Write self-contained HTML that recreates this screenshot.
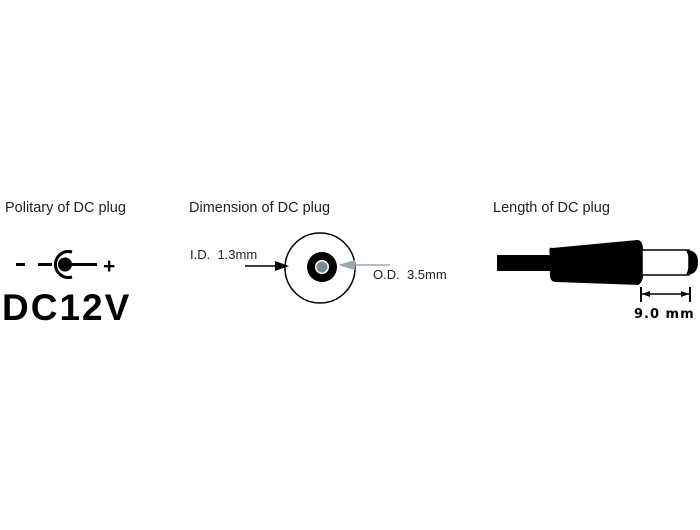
<!DOCTYPE html>
<html><head><style>
body{margin:0;background:#fff;}
svg{display:block}
</style></head><body>
<svg width="700" height="530" viewBox="0 0 700 530" xmlns="http://www.w3.org/2000/svg" font-family="Liberation Sans, sans-serif">
<rect width="700" height="530" fill="#fff"/>
<g font-size="14.5" fill="#222">
<text x="5" y="212">Politary of DC plug</text>
<text x="189" y="212">Dimension of DC plug</text>
<text x="493" y="212">Length of DC plug</text>
</g>
<!-- polarity -->
<rect x="16" y="263" width="9" height="3" fill="#000"/>
<rect x="38" y="263" width="14" height="3" fill="#000"/>
<path d="M72 252 A13 13 0 1 0 72 277" fill="none" stroke="#000" stroke-width="3"/>
<circle cx="65" cy="264.5" r="7" fill="#000"/>
<rect x="70" y="263" width="27" height="3" fill="#000"/>
<text x="103" y="273" font-size="21" font-weight="bold">+</text>
<text x="2" y="320" font-size="37" font-weight="bold" letter-spacing="2">DC12V</text>
<!-- dimension -->
<circle cx="320" cy="268" r="35" fill="none" stroke="#000" stroke-width="1.5"/>
<circle cx="322" cy="267" r="15" fill="#000"/>
<circle cx="322" cy="267" r="7" fill="#fff"/>
<circle cx="322" cy="267" r="5.5" fill="#7a8c94"/>
<text x="190" y="259" font-size="13" fill="#222">I.D.&#160;&#160;1.3mm</text>
<line x1="245" y1="266" x2="280" y2="266" stroke="#000" stroke-width="1.5"/>
<polygon points="289,266 275,261 275,271" fill="#000"/>
<text x="373" y="279" font-size="13" fill="#222">O.D.&#160;&#160;3.5mm</text>
<line x1="350" y1="265" x2="390" y2="265" stroke="#9aa8ae" stroke-width="1.5"/>
<polygon points="338,265 355,260 355,270" fill="#9aa8ae"/>
<!-- length -->
<rect x="497" y="255" width="55" height="16" fill="#000"/>
<path d="M552 248 Q548 246 550 256 L550 272 Q549 282 556 282 L638 285 Q644 282 643 270 L643 254 Q644 240 637 240 Z" fill="#000"/>
<rect x="642" y="250" width="47" height="25" fill="#fff" stroke="#000" stroke-width="1.5"/>
<path d="M686 250 Q698 250 698 262 Q698 275 686 275 Q692 262 686 250 Z" fill="#000"/>
<line x1="641" y1="287" x2="641" y2="302" stroke="#000" stroke-width="2"/>
<line x1="690" y1="287" x2="690" y2="302" stroke="#000" stroke-width="2"/>
<line x1="641" y1="294" x2="690" y2="294" stroke="#000" stroke-width="1.5"/>
<polygon points="642,294 650,291 650,297" fill="#000"/>
<polygon points="689,294 681,291 681,297" fill="#000"/>
<text x="634" y="318" font-size="13" font-weight="bold" letter-spacing="1" font-family="DejaVu Sans, sans-serif">9.0 mm</text>
</svg>
</body></html>
